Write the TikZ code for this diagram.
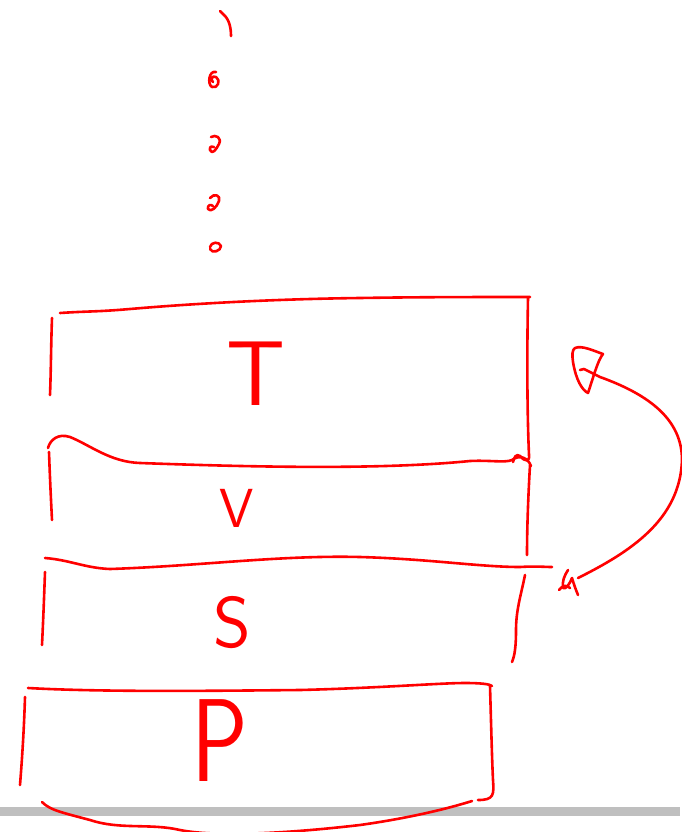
\documentclass[tikz,border=0pt]{standalone}
\usetikzlibrary{calc}
\begin{document}
\begin{tikzpicture}[x=1pt,y=-1pt,
  ink/.style={draw=red, line width=2.6pt, line cap=round, line join=round},
  letter/.style={text=red, font=\sffamily, inner sep=0pt}]
\useasboundingbox (0,0) rectangle (682,832);
\fill[white] (0,0) rectangle (682,832);
% grey baseline strip
\fill[black!25] (0,807) rectangle (680,816);

% dotted lead-in above the stack
\draw[ink] (220,11) -- (223,14) .. controls (229,19) and (231,27) .. (231,36);
\draw[ink] (216,72) .. controls (209,70) and (207,84) .. (212,87) .. controls (218,89) and (221,80) .. (216,77) .. controls (212,75) and (210,80) .. (213,82);
\draw[ink] (211,137) .. controls (216,134) and (222,138) .. (219,144) .. controls (216,150) and (212,155) .. (210,150) .. controls (209,146) and (213,146) .. (214,147);
\draw[ink] (210,198) .. controls (214,193) and (221,195) .. (219,201) .. controls (217,207) and (211,213) .. (208,209) .. controls (207,205) and (211,204) .. (213,206);
\draw[ink] (210,247) .. controls (211,242) and (219,241) .. (221,246) .. controls (221,251) and (212,254) .. (210,249);

% layer labels
\node[letter, font=\sffamily\fontsize{92}{92}\selectfont] (t) at (256,374) {T};
\node[letter, font=\sffamily\fontsize{55}{55}\selectfont] (v) at (237,508) {V};
\node[letter, font=\sffamily\fontsize{72}{72}\selectfont] (s) at (232,623) {S};
\node[letter, font=\sffamily\fontsize{118}{118}\selectfont, xscale=0.8] (p) at (220,741) {P};

% T layer
\draw[ink] (52,318) .. controls (51,345) and (51,370) .. (50,395);
\draw[ink] (60,313) .. controls (90,311) and (95,312) .. (130,309) .. controls (200,303) and (280,299) .. (360,298) .. controls (420,297) and (480,297) .. (530,297);
\draw[ink] (528,298) .. controls (527,350) and (527,410) .. (529,455) .. controls (530,462) and (525,462) .. (520,456) .. controls (516,453) and (514,458) .. (513,462);

% V layer
\draw[ink] (48,448) .. controls (50,440) and (58,433) .. (70,437) .. controls (90,445) and (110,462) .. (140,463) .. controls (250,467) and (380,470) .. (470,461) .. controls (490,460) and (505,463) .. (512,460) .. controls (520,454) and (528,458) .. (531,466);
\draw[ink] (49,452) .. controls (50,480) and (51,500) .. (52,520);
\draw[ink] (530,465) .. controls (528,500) and (527,530) .. (527,555);

% S layer
\draw[ink] (45,558) .. controls (70,560) and (85,568) .. (110,569) .. controls (200,566) and (280,555) .. (360,557) .. controls (430,559) and (480,567) .. (520,567) .. controls (535,566) and (545,567) .. (552,567);
\draw[ink] (45,572) .. controls (44,600) and (43,625) .. (42,645);
\draw[ink] (525,575) .. controls (521,595) and (516,610) .. (516,630) .. controls (516,645) and (515,655) .. (512,662);

% P layer
\draw[ink] (28,688) .. controls (100,692) and (200,691) .. (300,690) .. controls (380,688) and (440,683) .. (465,683) .. controls (480,683) and (490,684) .. (492,686);
\draw[ink] (25,697) .. controls (24,730) and (22,760) .. (20,785);
\draw[ink] (490,686) .. controls (491,720) and (492,760) .. (493,780) .. controls (494,795) and (494,800) .. (478,800);
\draw[ink] (42,802) .. controls (50,810) and (60,812) .. (90,820) .. controls (120,830) and (150,823) .. (180,830) .. controls (220,838) and (300,832) .. (360,825) .. controls (410,818) and (450,808) .. (472,801);

% return arrow from S back up to T
\coordinate (tail) at (578,578);
\coordinate (head) at (584,369);
\draw[ink] (tail) .. controls (630,552) and (680,520) .. (682,460) .. controls (682,420) and (650,395) .. (600,377) -- (head) -- (580,370);
\draw[ink] (575,348) .. controls (582,345) and (594,351) .. (603,354) .. controls (598,360) and (594,375) .. (588,393) .. controls (582,390) and (576,380) .. (573,362) .. controls (572,355) and (572,350) .. (575,348);
\draw[ink] (568,570) .. controls (564,576) and (562,582) .. (563,588) .. controls (566,590) and (570,583) .. (572,578) .. controls (574,585) and (576,590) .. (578,595);
\draw[ink] (559,590) .. controls (562,586) and (566,584) .. (570,588);
\end{tikzpicture}
\end{document}
